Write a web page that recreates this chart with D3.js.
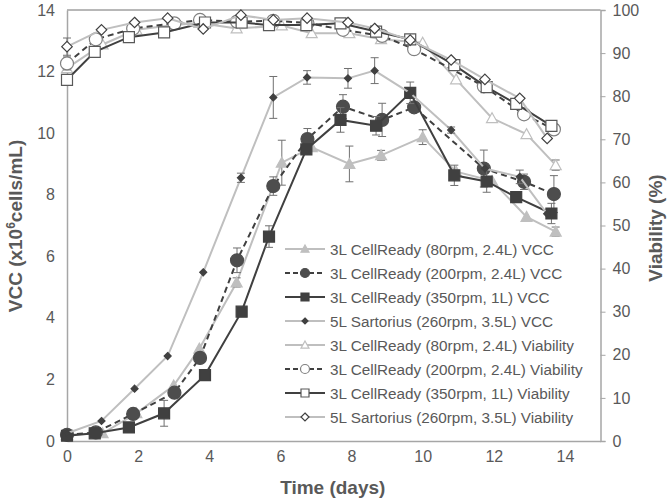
<!DOCTYPE html>
<html>
<head>
<meta charset="utf-8">
<script src="https://cdn.jsdelivr.net/npm/d3@7/dist/d3.min.js"></script>
<style>
  html, body { margin: 0; padding: 0; background: #fff; }
  svg { display: block; font-family: "Liberation Sans", Arial, sans-serif; }
</style>
</head>
<body>
<svg id="chart" width="670" height="504"></svg>
<script>
// ---- Data ----
const xTicks = [0, 2, 4, 6, 8, 10, 12, 14];
const yLeftTicks = [0, 2, 4, 6, 8, 10, 12, 14];
const yRightTicks = [0, 10, 20, 30, 40, 50, 60, 70, 80, 90, 100];

// 3L CellReady (80rpm, 2.4L)
const days80 = [0, 1.0, 1.95, 3.0, 3.72, 4.77, 6.04, 6.88, 7.94, 8.83, 10.0, 10.94, 11.95, 12.92, 13.74];
const vcc80 = [0.2, 0.25, 0.9, 1.8, 3.0, 5.15, 9.04, 9.54, 9.0, 9.28, 9.87, 8.75, 8.45, 7.28, 6.8];
const vccErr80 = [0, 0, 0, 0, 0, 0.15, 0.73, 0, 0.58, 0.16, 0.24, 0, 0, 0, 0.15];
const via80 = [86.5, 92.0, 95.4, 96.5, 97.0, 95.7, 96.4, 94.6, 94.6, 93.2, 92.4, 83.9, 74.9, 71.2, 64.0];
const viaErr80 = [0, 0, 0, 0, 0, 0, 0, 0, 0, 0, 0, 0, 0, 0, 1.2];

// 3L CellReady (200rpm, 2.4L)
const days200 = [0, 0.81, 1.86, 3.02, 3.74, 4.78, 5.8, 6.76, 7.76, 8.86, 9.76, 11.72, 12.85, 13.69];
const vcc200 = [0.2, 0.28, 0.88, 1.57, 2.7, 5.87, 8.28, 9.81, 10.86, 10.43, 10.84, 8.85, 8.42, 8.02];
const vccErr200 = [0, 0, 0, 0, 0, 0.4, 0.3, 0.34, 0.39, 0.54, 0, 0.6, 0.25, 0.6];
const via200 = [87.6, 93.2, 95.7, 96.9, 97.7, 97.3, 97.5, 97.0, 95.4, 94.0, 90.9, 82.3, 75.8, 72.3];
const viaErr200 = [1.5, 0, 0, 0, 0, 0, 0, 0, 0, 0, 0, 0, 0, 0];

// 3L CellReady (350rpm, 1L)
const days350 = [0, 0.78, 1.74, 2.73, 3.88, 4.91, 5.68, 6.73, 7.69, 8.69, 9.65, 10.89, 11.8, 12.63, 13.62];
const vcc350 = [0.17, 0.25, 0.44, 0.9, 2.14, 4.2, 6.64, 9.47, 10.43, 10.24, 11.31, 8.63, 8.43, 7.92, 7.39];
const vccErr350 = [0, 0, 0, 0.42, 0, 0, 0.35, 0, 0.4, 0.3, 0.35, 0.33, 0.35, 0, 0.33];
const via350 = [83.8, 90.3, 93.7, 94.8, 97.1, 97.1, 96.5, 96.5, 96.9, 95.0, 93.2, 87.2, 82.1, 78.2, 73.1];
const viaErr350 = [0, 0, 0, 0, 0, 0, 0, 0, 0, 0, 0, 0, 0, 0, 0];

// 5L Sartorius (260rpm, 3.5L)
const days5L = [0, 0.97, 1.9, 2.83, 3.83, 4.89, 5.8, 6.75, 7.9, 8.65, 9.65, 10.8, 11.75, 12.73, 13.5];
const vcc5L = [0.25, 0.65, 1.7, 2.76, 5.48, 8.55, 11.16, 11.81, 11.78, 12.03, 11.3, 10.1, 8.85, 8.58, 7.38];
const vccErr5L = [0, 0, 0, 0, 0, 0.15, 0.68, 0.22, 0.32, 0.42, 0, 0.1, 0, 0.22, 0];
const via5L = [91.5, 95.4, 97.1, 98.1, 95.6, 98.8, 97.7, 98.1, 97.1, 95.7, 93.0, 88.4, 83.9, 79.5, 70.2];
const viaErr5L = [2.0, 0, 0, 0, 0, 0, 0, 0, 0, 0, 0, 0, 0, 0, 0];

const legendLabels = [
  "3L CellReady (80rpm, 2.4L) VCC",
  "3L CellReady (200rpm, 2.4L) VCC",
  "3L CellReady (350rpm, 1L) VCC",
  "5L Sartorius (260rpm, 3.5L) VCC",
  "3L CellReady (80rpm, 2.4L) Viability",
  "3L CellReady (200rpm, 2.4L) Viability",
  "3L CellReady (350rpm, 1L) Viability",
  "5L Sartorius (260rpm, 3.5L) Viability"
];

// ---- Layout ----
const svg = d3.select("#chart");
const L = 67, R = 600.5, T = 10, B = 441;
const x = d3.scaleLinear().domain([0, 15]).range([L, R]);
const yL = d3.scaleLinear().domain([0, 14]).range([B, T]);
const yR = d3.scaleLinear().domain([0, 100]).range([B, T]);

const LIGHT = "#BFBFBF", DARK = "#404040", MID = "#595959", TXT = "#595959", AX = "#A6A6A6";

// Series definitions built from the arrays
const series = [
  { days: days80, vals: vcc80, err: vccErr80, y: yL, line: LIGHT, dash: null, shape: "tri", fill: LIGHT, stroke: LIGHT, size: 11, lsize: 8 },
  { days: days200, vals: vcc200, err: vccErr200, y: yL, line: DARK, dash: "6,4", shape: "circ", fill: "#4D4D4D", stroke: "#4D4D4D", size: 13, lsize: 9 },
  { days: days350, vals: vcc350, err: vccErr350, y: yL, line: DARK, dash: null, shape: "sq", fill: DARK, stroke: DARK, size: 11, lsize: 8 },
  { days: days5L, vals: vcc5L, err: vccErr5L, y: yL, line: LIGHT, dash: null, shape: "dia", fill: DARK, stroke: DARK, size: 7, lsize: 6 },
  { days: days80, vals: via80, err: viaErr80, y: yR, line: LIGHT, dash: null, shape: "tri", fill: "#fff", stroke: LIGHT, size: 11, lsize: 8 },
  { days: days200, vals: via200, err: viaErr200, y: yR, line: DARK, dash: "6,4", shape: "circ", fill: "#fff", stroke: "#808080", size: 13, lsize: 9 },
  { days: days350, vals: via350, err: viaErr350, y: yR, line: DARK, dash: null, shape: "sq", fill: "#fff", stroke: MID, size: 11, lsize: 8 },
  { days: days5L, vals: via5L, err: viaErr5L, y: yR, line: LIGHT, dash: null, shape: "dia", fill: "#fff", stroke: DARK, size: 10.5, lsize: 8 }
];

function markerPath(shape, s) {
  const h = s / 2;
  if (shape === "tri") return `M0,${-h}L${h},${h * 0.8}L${-h},${h * 0.8}Z`;
  if (shape === "sq") return `M${-h},${-h}H${h}V${h}H${-h}Z`;
  if (shape === "dia") return `M0,${-h}L${h},0L0,${h}L${-h},0Z`;
  return null;
}
function drawMarker(g, shape, s, fill, stroke) {
  if (shape === "circ") {
    return g.append("circle").attr("r", s / 2).attr("fill", fill).attr("stroke", stroke).attr("stroke-width", 1.2);
  }
  return g.append("path").attr("d", markerPath(shape, s)).attr("fill", fill).attr("stroke", stroke).attr("stroke-width", 1.2);
}

// ---- Axes ----
// top border
svg.append("line").attr("x1", L).attr("x2", R).attr("y1", T).attr("y2", T).attr("stroke", "#707070").attr("stroke-width", 1);

const gx = svg.append("g").attr("transform", `translate(0,${B})`)
  .call(d3.axisBottom(x).tickValues(xTicks).tickSize(0).tickPadding(10).tickFormat(d3.format("d")));
const gyl = svg.append("g").attr("transform", `translate(${L},0)`)
  .call(d3.axisLeft(yL).tickValues(yLeftTicks).tickSize(0).tickPadding(12).tickFormat(d3.format("d")));
const gyr = svg.append("g").attr("transform", `translate(${R},0)`)
  .call(d3.axisRight(yR).tickValues(yRightTicks).tickSize(5).tickPadding(7).tickFormat(d3.format("d")));

[gx, gyl, gyr].forEach(g => {
  g.select(".domain").attr("stroke", AX).attr("stroke-width", 1.5);
  g.selectAll(".tick line").attr("stroke", AX).attr("stroke-width", 1);
  g.selectAll(".tick text").attr("fill", TXT).style("font-size", "16px").style("font-family", "Liberation Sans, Arial, sans-serif");
});

// ---- Series ----
series.forEach(s => {
  const g = svg.append("g");
  const pts = s.days.map((d, i) => ({ d, v: s.vals[i], e: s.err[i] }));
  const line = d3.line().x(p => x(p.d)).y(p => s.y(p.v));
  g.append("path").attr("d", line(pts)).attr("fill", "none").attr("stroke", s.line)
    .attr("stroke-width", 2).attr("stroke-dasharray", s.dash);
  // error bars
  pts.filter(p => p.e > 0).forEach(p => {
    const cx = x(p.d), y1 = s.y(p.v - p.e), y2 = s.y(p.v + p.e);
    g.append("line").attr("x1", cx).attr("x2", cx).attr("y1", y1).attr("y2", y2).attr("stroke", "#707070").attr("stroke-width", 1);
    [y1, y2].forEach(yy => g.append("line").attr("x1", cx - 4).attr("x2", cx + 4).attr("y1", yy).attr("y2", yy).attr("stroke", "#707070").attr("stroke-width", 1));
  });
  pts.forEach(p => {
    const mg = g.append("g").attr("transform", `translate(${x(p.d)},${s.y(p.v)})`);
    drawMarker(mg, s.shape, s.size, s.fill, s.stroke);
  });
});

// ---- Legend ----
const lg = svg.append("g");
legendLabels.forEach((lab, i) => {
  const s = series[i];
  const yy = 249 + i * 24.0;
  lg.append("line").attr("x1", 285).attr("x2", 325).attr("y1", yy).attr("y2", yy)
    .attr("stroke", s.line).attr("stroke-width", 2).attr("stroke-dasharray", s.dash ? "5,3" : null);
  const mg = lg.append("g").attr("transform", `translate(305,${yy})`);
  drawMarker(mg, s.shape, s.lsize, s.fill, s.stroke);
  lg.append("text").attr("x", 330).attr("y", yy + 5.5).attr("fill", TXT)
    .style("font-size", "15.3px").text(lab);
});

// ---- Titles ----
svg.append("text").attr("x", (L + R) / 2 - 1).attr("y", 494).attr("text-anchor", "middle")
  .attr("fill", TXT).style("font-size", "19px").style("font-weight", "bold").text("Time (days)");

const lt = svg.append("text").attr("transform", `translate(22,226) rotate(-90)`).attr("text-anchor", "middle")
  .attr("fill", TXT).style("font-size", "19px").style("font-weight", "bold");
lt.append("tspan").text("VCC (x10");
lt.append("tspan").attr("dy", -7).style("font-size", "12px").text("6");
lt.append("tspan").attr("dy", 7).text("cells/mL)");

svg.append("text").attr("transform", `translate(662,228) rotate(-90)`).attr("text-anchor", "middle")
  .attr("fill", TXT).style("font-size", "19px").style("font-weight", "bold").text("Viability (%)");
</script>
</body>
</html>
